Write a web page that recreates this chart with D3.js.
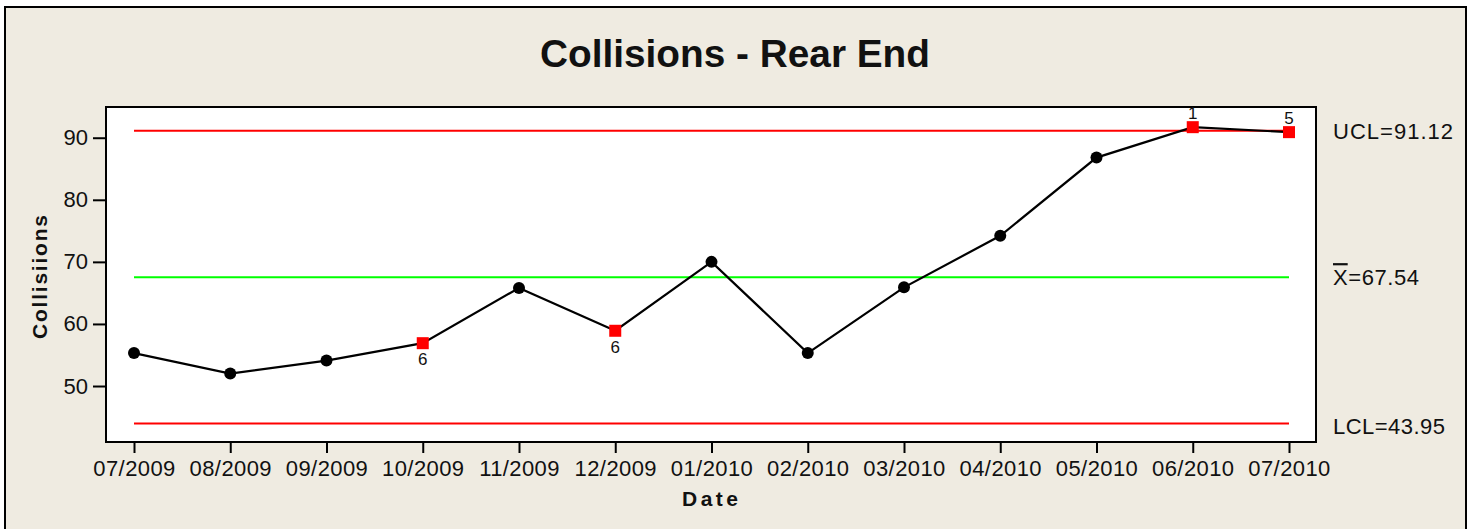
<!DOCTYPE html>
<html>
<head>
<meta charset="utf-8">
<script src="https://cdn.jsdelivr.net/npm/d3@7"></script>
<style>
  html, body { margin: 0; padding: 0; background: #ffffff; }
  svg { display: block; }
  text { font-family: "Liberation Sans", Arial, sans-serif; fill: #111; }
</style>
</head>
<body>
<svg id="chart" width="1474" height="529"></svg>
<script>
// ---- data ----
const dates = ["07/2009","08/2009","09/2009","10/2009","11/2009","12/2009","01/2010","02/2010","03/2010","04/2010","05/2010","06/2010","07/2010"];
const collisions = [55.3, 52.0, 54.1, 56.9, 65.8, 58.9, 70.0, 55.3, 65.9, 74.2, 86.8, 91.7, 90.9];
const flagLabels = ["", "", "", "6", "", "6", "", "", "", "", "", "1", "5"];
const flagPosition = ["", "", "", "below", "", "below", "", "", "", "", "", "above", "above"];
const yTicks = [50, 60, 70, 80, 90];
const controlNames = ["UCL", "mean", "LCL"];
const controlValues = [91.12, 67.54, 43.95];

// ---- layout ----
const svg = d3.select("#chart");
const plot = {left: 106, top: 107, right: 1316, bottom: 442};

svg.append("rect").attr("x", 5).attr("y", 7).attr("width", 1461).attr("height", 540)
  .attr("fill", "#EFEBE1").attr("stroke", "#000").attr("stroke-width", 2);

svg.append("rect").attr("x", plot.left).attr("y", plot.top)
  .attr("width", plot.right - plot.left).attr("height", plot.bottom - plot.top)
  .attr("fill", "#fff").attr("stroke", "#000").attr("stroke-width", 2);

const x = d3.scalePoint().domain(dates).range([134, 1289]);
const y = d3.scaleLinear().domain([40.98, 94.95]).range([plot.bottom, plot.top]);

// title
svg.append("text").attr("x", 735).attr("y", 67).attr("text-anchor", "middle")
  .attr("font-size", 38).attr("font-weight", "bold")
  .attr("textLength", 390).attr("lengthAdjust", "spacingAndGlyphs")
  .text("Collisions - Rear End");

// axes
const yAxis = svg.append("g").attr("transform", `translate(${plot.left},0)`)
  .call(d3.axisLeft(y).tickValues(yTicks).tickSize(13).tickPadding(5).tickFormat(d3.format("d")));
yAxis.select(".domain").remove();
yAxis.selectAll(".tick line").attr("stroke", "#000").attr("stroke-width", 2);
yAxis.selectAll(".tick text").attr("font-size", 22).attr("font-family", "Liberation Sans, Arial, sans-serif").attr("fill", "#111");

const xAxis = svg.append("g").attr("transform", `translate(0,${plot.bottom})`)
  .call(d3.axisBottom(x).tickSize(11).tickPadding(7));
xAxis.select(".domain").remove();
xAxis.selectAll(".tick line").attr("stroke", "#000").attr("stroke-width", 2);
xAxis.selectAll(".tick text").attr("font-size", 22).attr("letter-spacing", "0.4px")
  .attr("font-family", "Liberation Sans, Arial, sans-serif").attr("fill", "#111");

// axis titles
svg.append("text").attr("transform", "translate(47,277) rotate(-90)").attr("text-anchor", "middle")
  .attr("font-size", 21).attr("font-weight", "bold")
  .attr("textLength", 124).attr("lengthAdjust", "spacing")
  .text("Collisiions");
svg.append("text").attr("x", 710).attr("y", 506).attr("text-anchor", "middle")
  .attr("font-size", 21).attr("font-weight", "bold")
  .attr("textLength", 56).attr("lengthAdjust", "spacing")
  .text("Date");

// control lines
const ctrlColor = {UCL: "#FF0000", mean: "#00FF00", LCL: "#FF0000"};
controlNames.forEach((n, i) => {
  svg.append("line").attr("x1", x(dates[0])).attr("x2", x(dates[dates.length - 1]))
    .attr("y1", y(controlValues[i])).attr("y2", y(controlValues[i]))
    .attr("stroke", ctrlColor[n]).attr("stroke-width", 2);
});

// control labels
const lbl = (i) => y(controlValues[i]) + 8;
svg.append("text").attr("x", 1333).attr("y", lbl(0)).attr("font-size", 22)
  .attr("textLength", 120).attr("lengthAdjust", "spacing")
  .text("UCL=" + controlValues[0].toFixed(2));
const mt = svg.append("text").attr("x", 1333).attr("y", lbl(1)).attr("font-size", 22)
  .attr("textLength", 86).attr("lengthAdjust", "spacing");
mt.append("tspan").style("text-decoration", "overline").text("X");
mt.append("tspan").text("=" + controlValues[1].toFixed(2));
svg.append("text").attr("x", 1333).attr("y", lbl(2) + 2).attr("font-size", 22)
  .attr("textLength", 112).attr("lengthAdjust", "spacing")
  .text("LCL=" + controlValues[2].toFixed(2));

// series line
const line = d3.line().x((d, i) => x(dates[i])).y(d => y(d));
svg.append("path").datum(collisions).attr("d", line)
  .attr("fill", "none").attr("stroke", "#000").attr("stroke-width", 2.2);

// points
const pts = collisions.map((v, i) => ({v, i, date: dates[i], flag: flagLabels[i], pos: flagPosition[i]}));
svg.selectAll("circle.pt").data(pts.filter(d => !d.flag)).enter().append("circle")
  .attr("class", "pt").attr("cx", d => x(d.date)).attr("cy", d => y(d.v)).attr("r", 6).attr("fill", "#000");

const flagged = pts.filter(d => d.flag);
svg.selectAll("text.flag").data(flagged).enter().append("text")
  .attr("class", "flag").attr("x", d => x(d.date)).attr("text-anchor", "middle")
  .attr("y", d => d.pos === "below" ? y(d.v) + 22 : y(d.v) - 8)
  .attr("font-size", 17).text(d => d.flag);
svg.selectAll("rect.flagpt").data(flagged).enter().append("rect")
  .attr("class", "flagpt").attr("x", d => x(d.date) - 6).attr("y", d => y(d.v) - 6)
  .attr("width", 12).attr("height", 12).attr("fill", "#FF0000");
</script>
</body>
</html>
